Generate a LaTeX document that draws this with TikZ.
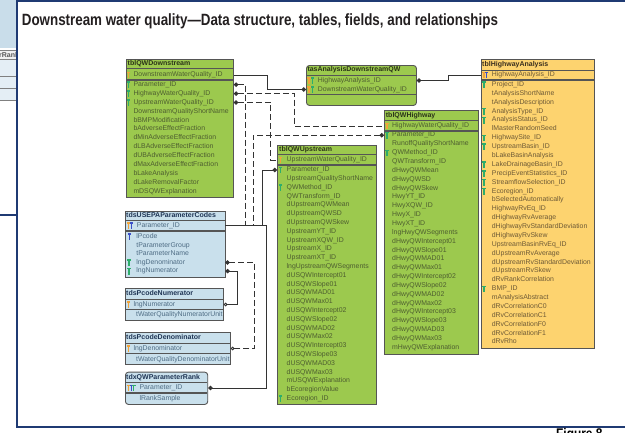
\documentclass[tikz,border=0pt]{standalone}
\usepackage{fontspec}
\setmainfont{Liberation Sans}
\usepackage{graphicx}
\usetikzlibrary{arrows.meta}
\definecolor{frameblue}{HTML}{1F3A73}
\definecolor{titlec}{HTML}{231F20}
\definecolor{tgreen}{HTML}{9CC94E}
\definecolor{tgreentext}{HTML}{4E5E30}
\definecolor{tgreentitle}{HTML}{2B3319}
\definecolor{tyellow}{HTML}{FDD36F}
\definecolor{tyellowtext}{HTML}{6E5A36}
\definecolor{tyellowtitle}{HTML}{3A2E1E}
\definecolor{tblue}{HTML}{C9E0EC}
\definecolor{tbluetext}{HTML}{4F6D85}
\definecolor{tbluetitle}{HTML}{1E3454}
\definecolor{keyorange}{HTML}{F2A33A}
\definecolor{keygreen}{HTML}{2EAD6B}
\definecolor{keyblue}{HTML}{3B4FC8}
\definecolor{linecol}{HTML}{333333}
\definecolor{borderc}{HTML}{555555}
\definecolor{leftblue}{HTML}{C9DDEA}
\newcommand\keyic[3]{\fill[#3] (#1-1.6,#2-3.4) rectangle (#1+1.6,#2-1.9); \fill[#3] (#1-0.55,#2-1.9) rectangle (#1+0.55,#2+3.4);}
\newcommand\fieldrows[6]{\foreach \fname [count=\ii from 0] in {#6}{\node[#5] (#1-\ii) at (#2,{#3+\ii*#4}) {\fname};}}
\begin{document}
\begin{tikzpicture}[x=1pt,y=-1pt,
  tbox/.style={draw=borderc, line width=0.9pt, inner sep=0pt, anchor=north west},
  gtbl/.style={tbox, fill=tgreen},
  ytbl/.style={tbox, fill=tyellow},
  btbl/.style={tbox, fill=tblue, draw=borderc},
  fld/.style={inner sep=0pt, text height=5pt, text depth=1.5pt, anchor=west, font=\fontsize{6.9}{7}\selectfont},
  gfld/.style={fld, text=tgreentext},
  yfld/.style={fld, text=tyellowtext},
  bfld/.style={fld, text=tbluetext},
  ttl/.style={fld, font=\fontsize{7}{7}\selectfont\bfseries},
  sep/.style={draw=borderc, line width=0.9pt},
  sepk/.style={draw=borderc, line width=1.3pt},
  rel/.style={draw=linecol, line width=0.9pt},
  dsh/.style={dash pattern=on 6pt off 3pt},
  dotS/.style={{Circle[length=4.4pt]}-},
  dotE/.style={-{Circle[length=4.4pt]}},
  dotO/.style={{Circle[length=4.4pt]}-{Circle[open,length=3.6pt]}}]
\useasboundingbox (0,0) rectangle (625,432);
\clip (0,0) rectangle (625,432);
\fill[white] (0,0) rectangle (625,432);
% left fragment of neighbouring page
\begin{scope}
\clip (0,0) rectangle (16.2,432);
\fill[leftblue] (0,0) rectangle (17,48);
\fill[gray!12] (0,50) rectangle (17,59);
\fill[leftblue!50] (0,59) rectangle (17,100);
\draw[gray, line width=0.8pt] (0,50) -- (17,50) (0,59) -- (17,59) (0,76) -- (17,76) (0,88) -- (17,88) (0,100) -- (17,100);
\node[anchor=base west, inner sep=0pt, font=\fontsize{7}{7}\selectfont\bfseries, text=gray!70!black] (lfrag) at (-1,57.5) {rRank};
\draw[frameblue, line width=1.2pt] (0,215) -- (17,215);
\end{scope}
% frame
\draw[frameblue, line width=1.6pt] (640,1) -- (17,1) -- (17,427) -- (640,427);
\node[anchor=base west, inner sep=0pt, text=titlec, font=\fontsize{16.3}{18}\selectfont\bfseries] (title) at (21.7,25) {\scalebox{0.82}[1]{Downstream water quality—Data structure, tables, fields, and relationships}};
\node[anchor=base west, inner sep=0pt, text=black, font=\fontsize{14}{16}\selectfont\bfseries] (fig) at (556,438.5) {\scalebox{0.85}[1]{Figure 8}};

% ---------- tblQWDownstream
\node[gtbl, minimum width=107pt, minimum height=138pt] (qwds) at (126,59) {};
\draw[sep] (126,68.5) -- (233,68.5);
\draw[sepk] (126,80) -- (233,80);
\node[ttl, text=tgreentitle] (qwdsT) at (127.5,63.8) {tblQWDownstream};
\node[gfld] (dsk) at (133.3,75) {DownstreamWaterQuality\_ID};
\fieldrows{ds}{133.3}{84.7}{8.9}{gfld}{Parameter\_ID, HighwayWaterQuality\_ID, UpstreamWaterQuality\_ID, DownstreamQualityShortName, bBMPModification, bAdverseEffectFraction, dMinAdverseEffectFraction, dLBAdverseEffectFraction, dUBAdverseEffectFraction, dMaxAdverseEffectFraction, bLakeAnalysis, dLakeRemovalFactor, mDSQWExplanation}
\keyic{128.5}{75}{keyorange}
\keyic{128.5}{84.7}{keygreen}
\keyic{128.5}{93.6}{keygreen}
\keyic{128.5}{102.5}{keygreen}

% ---------- tasAnalysisDownstreamQW
\node[gtbl, rounded corners=3pt, minimum width=110pt, minimum height=40pt] (tas) at (306,65) {};
\draw[sep] (306,75) -- (416,75);
\draw[sepk] (306,94.5) -- (416,94.5);
\node[ttl, text=tgreentitle] (tasT) at (307.3,70) {tasAnalysisDownstreamQW};
\node[gfld] (tasH) at (317.7,80.5) {HighwayAnalysis\_ID};
\node[gfld] (tasD) at (317.7,89.5) {DownstreamWaterQuality\_ID};
\keyic{309}{80.5}{keyorange}\keyic{312.2}{80.5}{keygreen}
\keyic{309}{89.5}{keyorange}\keyic{312.2}{89.5}{keygreen}

% ---------- tblQWHighway
\node[gtbl, minimum width=94pt, minimum height=243.5pt] (qwhw) at (384,110) {};
\draw[sep] (384,120.5) -- (478,120.5);
\draw[sepk] (384,131) -- (478,131);
\node[ttl, text=tgreentitle] (qwhwT) at (385.7,115.5) {tblQWHighway};
\node[gfld] (hwk) at (392,126) {HighwayWaterQuality\_ID};
\fieldrows{hw}{392}{135.2}{8.85}{gfld}{Parameter\_ID, RunoffQualityShortName, QWMethod\_ID, QWTransform\_ID, dHwyQWMean, dHwyQWSD, dHwyQWSkew, HwyYT\_ID, HwyXQW\_ID, HwyX\_ID, HwyXT\_ID, lngHwyQWSegments, dHwyQWIntercept01, dHwyQWSlope01, dHwyQWMAD01, dHwyQWMax01, dHwyQWIntercept02, dHwyQWSlope02, dHwyQWMAD02, dHwyQWMax02, dHwyQWIntercept03, dHwyQWSlope03, dHwyQWMAD03, dHwyQWMax03, mHwyQWExplanation}
\keyic{387}{126}{keyorange}
\keyic{387}{135.2}{keygreen}
\keyic{387}{152.9}{keygreen}

% ---------- tblQWUpstream
\node[gtbl, minimum width=99pt, minimum height=259pt] (qwup) at (277,145) {};
\draw[sep] (277,154.5) -- (376,154.5);
\draw[sepk] (277,165) -- (376,165);
\node[ttl, text=tgreentitle] (qwupT) at (279,149.5) {tblQWUpstream};
\node[gfld] (upk) at (286.5,160) {UpstreamWaterQuality\_ID};
\fieldrows{up}{286.5}{170}{8.8}{gfld}{Parameter\_ID, UpstreamQualityShortName, QWMethod\_ID, QWTransform\_ID, dUpstreamQWMean, dUpstreamQWSD, dUpstreamQWSkew, UpstreamYT\_ID, UpstreamXQW\_ID, UpstreamX\_ID, UpstreamXT\_ID, lngUpstreamQWSegments, dUSQWIntercept01, dUSQWSlope01, dUSQWMAD01, dUSQWMax01, dUSQWIntercept02, dUSQWSlope02, dUSQWMAD02, dUSQWMax02, dUSQWIntercept03, dUSQWSlope03, dUSQWMAD03, dUSQWMax03, mUSQWExplanation, bEcoregionValue, Ecoregion\_ID}
\keyic{280.5}{160}{keyorange}
\keyic{280.5}{170}{keygreen}
\keyic{280.5}{187.6}{keygreen}
\keyic{280.5}{398.8}{keygreen}

% ---------- tblHighwayAnalysis
\node[ytbl, minimum width=113pt, minimum height=289pt] (hwa) at (481,58.5) {};
\draw[sep] (481,70) -- (594,70);
\draw[sepk] (481,80) -- (594,80);
\node[ttl, text=tyellowtitle] (hwaT) at (482,64.5) {tblHighwayAnalysis};
\node[yfld] (hak) at (491.7,75) {HighwayAnalysis\_ID};
\fieldrows{ha}{491.7}{84.7}{8.88}{yfld}{Project\_ID, tAnalysisShortName, tAnalysisDescription, AnalysisType\_ID, AnalysisStatus\_ID, lMasterRandomSeed, HighwaySite\_ID, UpstreamBasin\_ID, bLakeBasinAnalysis, LakeDrainageBasin\_ID, PrecipEventStatistics\_ID, StreamflowSelection\_ID, Ecoregion\_ID, bSelectedAutomatically, HighwayRvEq\_ID, dHighwayRvAverage, dHighwayRvStandardDeviation, dHighwayRvSkew, UpstreamBasinRvEq\_ID, dUpstreamRvAverage, dUpstreamRvStandardDeviation, dUpstreamRvSkew, dRvRankCorrelation, BMP\_ID, mAnalysisAbstract, dRvCorrelationC0, dRvCorrelationC1, dRvCorrelationF0, dRvCorrelationF1, dRvRho}
\keyic{484}{75}{keyorange}\keyic{486.6}{75}{keyblue}
\foreach \k in {0,3,4,6,7,9,10,11,12,23} {\keyic{484}{84.7+\k*8.88}{keygreen}}

% ---------- tdsUSEPAParameterCodes
\node[btbl, minimum width=99.5pt, minimum height=66.3pt] (tds) at (125,210.7) {};
\draw[sep] (125,220.7) -- (224.5,220.7);
\draw[sepk] (125,231) -- (224.5,231);
\node[ttl, text=tbluetitle] (tdsT) at (126,215.7) {tdsUSEPAParameterCodes};
\node[bfld] (tdk) at (136.7,225.7) {Parameter\_ID};
\fieldrows{td}{136.2}{236.7}{8.6}{bfld}{lPcode, tParameterGroup, tParameterName, lngDenominator, lngNumerator}
\keyic{128.5}{225.7}{keyorange}\keyic{131.3}{225.7}{keyblue}
\keyic{129.5}{236.7}{keyblue}
\keyic{129}{262.5}{keygreen}
\keyic{129}{271.1}{keygreen}

% ---------- tdsPcodeNumerator
\node[btbl, minimum width=98pt, minimum height=31.7pt] (num) at (125,288.3) {};
\draw[sep] (125,299) -- (223,299);
\draw[sepk] (125,309.5) -- (223,309.5);
\node[ttl, text=tbluetitle] (numT) at (126,293.5) {tdsPcodeNumerator};
\node[bfld] (nmk) at (133.3,304.5) {lngNumerator};
\node[bfld] (nm-0) at (136,315) {tWaterQualityNumeratorUnit};
\keyic{128.5}{304.5}{keyorange}

% ---------- tdsPcodeDenominator
\node[btbl, minimum width=105pt, minimum height=32pt] (den) at (125,332.3) {};
\draw[sep] (125,343.3) -- (230,343.3);
\draw[sepk] (125,353.5) -- (230,353.5);
\node[ttl, text=tbluetitle] (denT) at (126,338) {tdsPcodeDenominator};
\node[bfld] (dnk) at (133.3,348.5) {lngDenominator};
\node[bfld] (dn-0) at (136,359.5) {tWaterQualityDenominatorUnit};
\keyic{128.5}{348.5}{keyorange}

% ---------- tdxQWParameterRank
\node[btbl, rounded corners=3pt, minimum width=82.3pt, minimum height=32.3pt] (tdx) at (125,371.7) {};
\draw[sep] (125,382.7) -- (207.3,382.7);
\draw[sepk] (125,393) -- (207.3,393);
\node[ttl, text=tbluetitle] (tdxT) at (126,377.5) {tdxQWParameterRank};
\node[bfld] (rkk) at (139.3,388) {Parameter\_ID};
\node[bfld] (rk-0) at (139.3,398.5) {lRankSample};
\keyic{128.5}{388}{keyorange}\keyic{131.2}{388}{keyblue}\keyic{133.9}{388}{keygreen}

% ---------- relationships
\draw[rel, dotE] (qwds.east |- dsk) -- ++(34,0) |- (tas.west |- tasD);
\draw[rel, dotE] (hwa.west |- hak) -- ++(-33,0) |- (tas.east |- tasH);
\draw[rel, dsh, dotS] (qwds.east |- ds-1) -- ++(61,0) |- (qwhw.west |- hwk);
\draw[rel, dsh, dotS] (qwds.east |- ds-2) -- ++(37,0) |- (qwup.west |- upk);
\draw[rel, dsh, dotS] (qwds.east |- ds-0) -- ++(12,0) |- (tds.east |- tdk);
\draw[rel, dsh, dotS] (qwhw.west |- hw-0) -- ++(-131,0) |- (tds.east |- tdk);
\draw[rel, dotS] (qwup.west |- up-0) -- ++(-15,0) |- (tds.east |- tdk);
\draw[rel, dotS] (tdx.east |- rkk) -- ++(58.7,0) |- (tds.east |- tdk);
\draw[rel, dsh, dotO] (tds.east |- td-3) -- ++(29.5,0) |- (den.east |- dnk);
\draw[rel, dotO] (tds.east |- td-4) -- ++(12.5,0) |- (num.east |- nmk);
\end{tikzpicture}
\end{document}
